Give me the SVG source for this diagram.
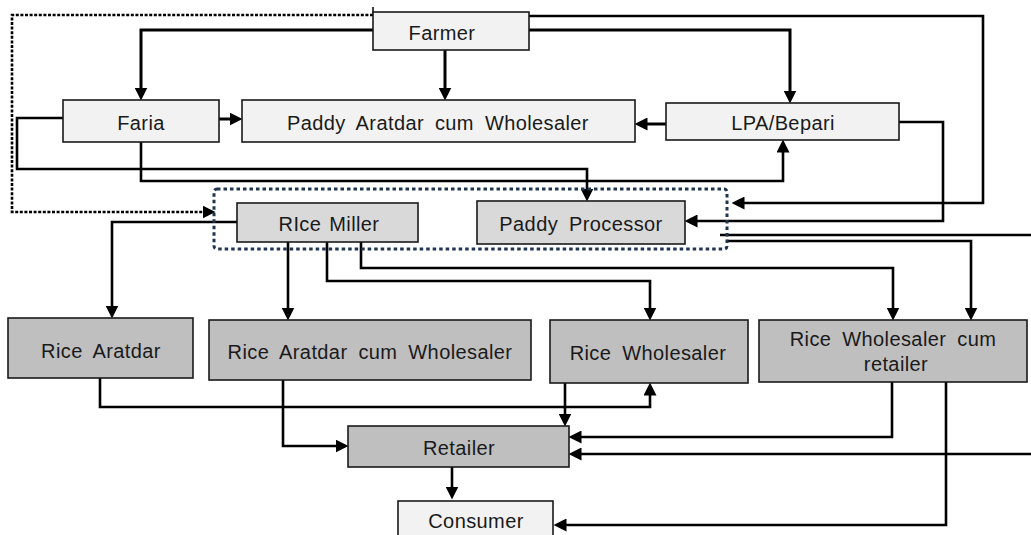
<svg xmlns="http://www.w3.org/2000/svg" width="1031" height="535" viewBox="0 0 1031 535">
<style>
.box{stroke:#1a1a1a;stroke-width:1.6}
.l1{fill:#f2f2f2}.l2{fill:#d9d9d9}.l3{fill:#bfbfbf}
.t{font-family:"Liberation Sans",Arial,sans-serif;font-size:20px;fill:#1a1a1a;text-anchor:middle;letter-spacing:0.4px;word-spacing:5px}
.c{fill:none;stroke:#000;stroke-width:3;stroke-linejoin:miter}
.cn{fill:none;stroke:#000;stroke-width:2.6}
.a{marker-end:url(#ah)}
.dot{fill:none;stroke:#000;stroke-width:2.6;stroke-dasharray:3 1.6}
.grp{fill:none;stroke:#1f3550;stroke-width:3;stroke-dasharray:3.5 3}
</style>
<defs>
<marker id="ah" viewBox="0 0 12 12" markerWidth="13" markerHeight="13" refX="6" refY="6" orient="auto" markerUnits="userSpaceOnUse">
<path d="M0,0 L12,6 L0,12 Z" fill="#000"/>
</marker>
</defs>

<g id="connectors">
<path class="dot a" d="M373,15 H12 V212 H209"/>
<line x1="373" y1="7" x2="373" y2="13" stroke="#000" stroke-width="1.5"/>
<path class="c a" d="M373,30 H141 V94"/>
<path class="c a" d="M445,50 V94"/>
<path class="c a" d="M529,30 H790 V97"/>
<path class="cn a" d="M529,16 H983 V203 H738"/>
<path class="c a" d="M219,119 H236"/>
<path class="c a" d="M666,124 H641"/>
<path class="cn a" d="M63,118 H17 V169 H587 V195"/>
<path class="cn a" d="M141,142 V181 H783 V146"/>
<path class="cn a" d="M899,122 H943 V221 H691"/>
<path class="cn a" d="M237,222 H112 V312"/>
<path class="cn a" d="M288,242 V314"/>
<path class="cn a" d="M327,242 V281 H650 V314"/>
<path class="cn a" d="M361,242 V268 H893 V314"/>
<path class="cn a" d="M727,241 H971 V314"/>
<path class="cn" d="M720,235 H1031"/>
<path class="cn a" d="M100,378 V407 H650 V389"/>
<path class="cn a" d="M283,380 V446 H342"/>
<path class="cn a" d="M565,383 V420"/>
<path class="cn a" d="M892,382 V437 H575"/>
<path class="cn a" d="M1031,454 H575"/>
<path class="cn a" d="M946,382 V525 H560"/>
<path class="cn a" d="M452,467 V493"/>
</g>

<rect id="processor-group" class="grp" x="214" y="189" width="513" height="60" rx="3"/>

<g id="farmer"><rect class="box l1" x="373" y="12" width="156" height="38"/><text class="t" x="442" y="40">Farmer</text></g>
<g id="faria"><rect class="box l1" x="63" y="100" width="156" height="42"/><text class="t" x="141" y="130">Faria</text></g>
<g id="paddy-aratdar"><rect class="box l1" x="242" y="100" width="393" height="42"/><text class="t" x="438" y="130">Paddy Aratdar cum Wholesaler</text></g>
<g id="lpa"><rect class="box l1" x="666" y="103" width="233" height="37"/><text class="t" x="783" y="130">LPA/Bepari</text></g>
<g id="rice-miller"><rect class="box l2" x="237" y="203" width="181" height="39"/><text class="t" x="329" y="231" style="word-spacing:2px">RIce Miller</text></g>
<g id="paddy-processor"><rect class="box l2" x="477" y="201" width="208" height="43"/><text class="t" x="581" y="231">Paddy Processor</text></g>
<g id="rice-aratdar"><rect class="box l3" x="8" y="318" width="185" height="60"/><text class="t" x="101" y="358">Rice Aratdar</text></g>
<g id="rice-aratdar-wholesaler"><rect class="box l3" x="209" y="320" width="322" height="60"/><text class="t" x="370" y="359">Rice Aratdar cum Wholesaler</text></g>
<g id="rice-wholesaler"><rect class="box l3" x="550" y="320" width="198" height="63"/><text class="t" x="648" y="360">Rice Wholesaler</text></g>
<g id="rice-wholesaler-retailer"><rect class="box l3" x="759" y="320" width="268" height="62"/><text class="t" x="893" y="346">Rice Wholesaler cum</text><text class="t" x="896" y="371">retailer</text></g>
<g id="retailer"><rect class="box l3" x="348" y="426" width="221" height="41"/><text class="t" x="459" y="455">Retailer</text></g>
<g id="consumer"><rect class="box l1" x="398" y="501" width="155" height="40"/><text class="t" x="476" y="528">Consumer</text></g>
</svg>
